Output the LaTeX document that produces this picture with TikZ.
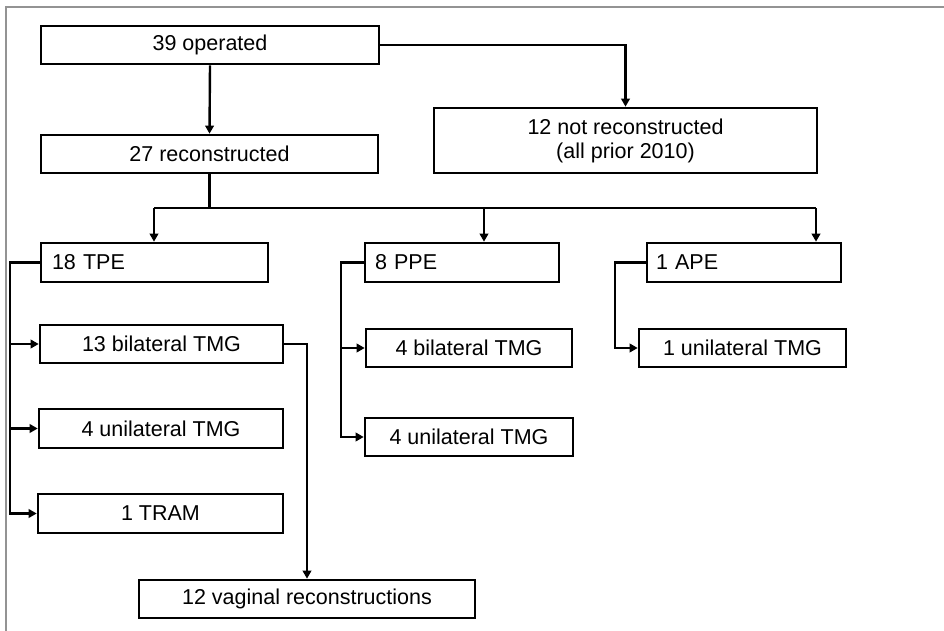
\documentclass[tikz,border=0pt]{standalone}
\usepackage{fontspec}
\setmainfont{Liberation Sans}
\usetikzlibrary{arrows.meta}
\begin{document}
\begin{tikzpicture}[x=1pt,y=-1pt,
  box/.style={draw=black, line width=2.6pt, rectangle, inner sep=0pt,
    font=\fontsize{21.5}{25}\selectfont, align=center},
  link/.style={line width=2.4pt, draw=black},
  arr/.style={link, -{Triangle[length=8pt,width=8.5pt]}},
  frame/.style={draw=gray!85, line width=1.3pt}]
\useasboundingbox (0,0) rectangle (944,631);
% outer frame (top and left edges)
\draw[frame] (6,631) -- (6,7) -- (944,7);

% level 1
\node[box, minimum width=338pt, minimum height=38pt] (op) at (210,45) {39 operated};
\node[box, minimum width=337pt, minimum height=38pt] (rec) at (209.5,154) {27 reconstructed};
\node[box, minimum width=383pt, minimum height=65pt] (nrec) at (625.5,140.5) {12 not reconstructed\\[-1pt](all prior 2010)};

% level 2
\node[box, minimum width=227pt, minimum height=39pt, text width=205pt, align=left] (tpe) at (154.5,262.5) {18 TPE};
\node[box, minimum width=194pt, minimum height=39pt, text width=174pt, align=left] (ppe) at (462,262.5) {8 PPE};
\node[box, minimum width=194pt, minimum height=39pt, text width=176pt, align=left] (ape) at (744,262.5) {1 APE};

% TPE branch
\node[box, minimum width=243pt, minimum height=38pt] (bil) at (161.5,344) {13 bilateral TMG};
\node[box, minimum width=244pt, minimum height=39pt] (uni) at (161,428.5) {4 unilateral TMG};
\node[box, minimum width=245pt, minimum height=39pt] (tram) at (160.5,513.5) {1 TRAM};
\node[box, minimum width=336pt, minimum height=38pt] (vag) at (307,599) {12 vaginal reconstructions};

% PPE branch
\node[box, minimum width=206pt, minimum height=38pt] (pbil) at (469,348) {4 bilateral TMG};
\node[box, minimum width=208pt, minimum height=38pt] (puni) at (469,437) {4 unilateral TMG};

% APE branch
\node[box, minimum width=207pt, minimum height=38pt] (auni) at (742.5,348) {1 unilateral TMG};

% connectors from the top box
\draw[arr] (op.south) -- (rec.north);
\draw[arr] (op.east) -| (nrec.north);

% distribution bus below "27 reconstructed"
\coordinate (bus) at (209.5,208);
\coordinate (jT) at (154,208);
\coordinate (jP) at (484,208);
\coordinate (jA) at (816,208);
\draw[link] (rec.south) -- (bus);
\draw[link] (jT) -- (jA);
\draw[arr] (jT) -- (jT |- tpe.north);
\draw[arr] (jP) -- (jP |- ppe.north);
\draw[arr] (jA) -- (jA |- ape.north);

% TPE bracket
\coordinate (tb) at (10,0);
\draw[arr] (tpe.west) -| (tb |- tram.west) -- (tram.west);
\draw[arr] (tb |- bil.west) -- (bil.west);
\draw[arr] (tb |- uni.west) -- (uni.west);
\draw[arr] (bil.east) -| (vag.north);

% PPE bracket
\coordinate (pb) at (341,0);
\draw[arr] (ppe.west) -| (pb |- puni.west) -- (puni.west);
\draw[arr] (pb |- pbil.west) -- (pbil.west);

% APE bracket
\coordinate (ab) at (615,0);
\draw[arr] (ape.west) -| (ab |- auni.west) -- (auni.west);
\end{tikzpicture}
\end{document}
